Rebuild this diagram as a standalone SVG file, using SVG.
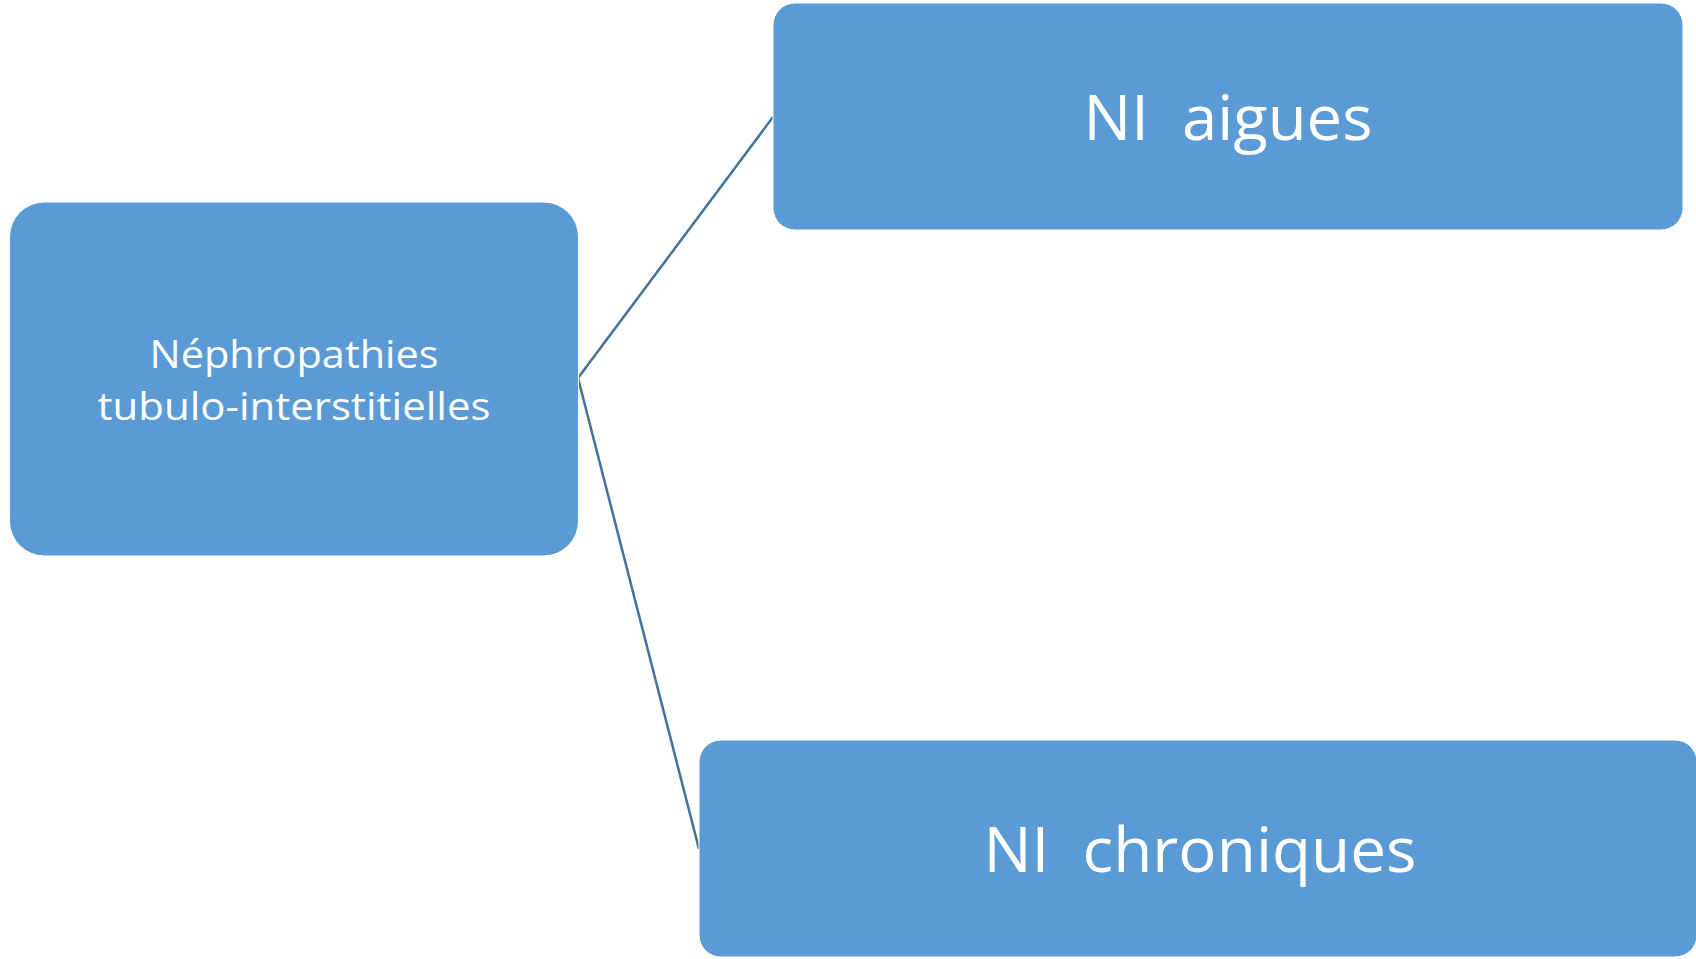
<svg xmlns="http://www.w3.org/2000/svg" width="1696" height="959" viewBox="0 0 1696 959">
<style>
.box{fill:#5B9BD5;stroke:#ffffff;stroke-width:1}
.lbl{fill:#ffffff;font-family:"Open Sans","Noto Sans",sans-serif;text-anchor:middle}
.conn{stroke:#41719C;stroke-width:2.5;fill:none}
</style>
<rect width="1696" height="959" fill="#ffffff"/>
<g id="connectors">
<line class="conn" x1="578" y1="378" x2="773" y2="117"/>
<line class="conn" x1="578" y1="378" x2="699" y2="849"/>
</g>
<g id="node-root">
<rect class="box" x="9.5" y="202" width="569" height="354" rx="35" ry="35"/>
<text class="lbl" x="294" y="368" font-size="39" textLength="289" lengthAdjust="spacingAndGlyphs">Néphropathies</text>
<text class="lbl" x="294" y="420" font-size="39" textLength="393" lengthAdjust="spacingAndGlyphs">tubulo-interstitielles</text>
</g>
<g id="node-aigues">
<rect class="box" x="773" y="3" width="910" height="227" rx="22" ry="22"/>
<text class="lbl" x="1228" y="140" font-size="63" textLength="289" lengthAdjust="spacingAndGlyphs" xml:space="preserve">NI  aigues</text>
</g>
<g id="node-chroniques">
<rect class="box" x="699" y="740" width="998" height="217" rx="22" ry="22"/>
<text class="lbl" x="1200" y="872" font-size="63" textLength="433" lengthAdjust="spacingAndGlyphs" xml:space="preserve">NI  chroniques</text>
</g>
</svg>
